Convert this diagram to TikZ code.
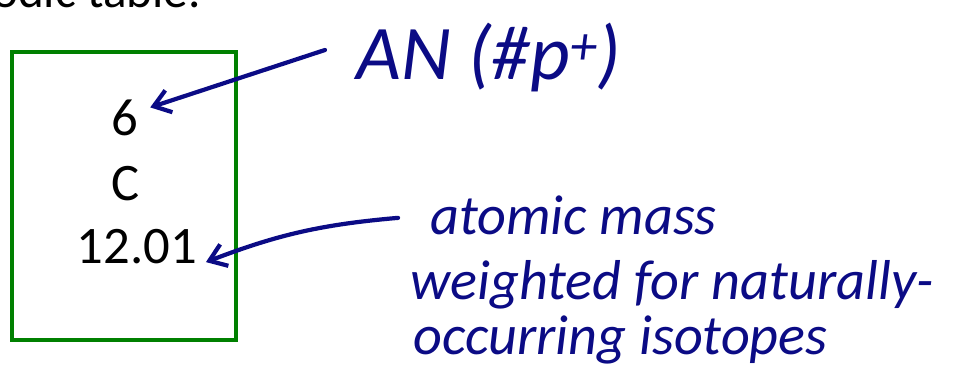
\documentclass[tikz,border=0pt]{standalone}
\usepackage{fontspec}
\setmainfont{Carlito}
\usetikzlibrary{arrows.meta,positioning,calc}
\definecolor{cellgreen}{HTML}{008000}
\definecolor{ink}{HTML}{0B0B85}
\tikzset{
  cell/.style={draw=cellgreen, line width=2.2pt, minimum width=4.48cm, minimum height=5.76cm, inner sep=0pt},
  print/.style={font=\fontsize{30}{36}\selectfont, inner sep=2pt},
  hand/.style={text=ink, inner sep=0pt, font=\itshape\fontsize{32}{34}\selectfont},
  pen/.style={draw=ink, line width=2.4pt, line cap=round, line join=round, -{Straight Barb[length=3.2mm,width=4.6mm]}},
}

\begin{document}
\begin{tikzpicture}[x=0.02cm, y=-0.02cm]
  \useasboundingbox (0,0) rectangle (953,391);
  \node[print, anchor=base east, inner sep=0pt, font=\fontsize{28}{34}\selectfont] (title) at (201,8) {Periodic table.};
  % element cell
  \node[cell] (box) at (124,196) {};
  \node[print, anchor=base] (anum) at (125,136) {6};
  \node[print, anchor=base] (sym) at (126,201) {C};
  \node[print, anchor=base] (amass) at (137,264) {12.01};
  % notes
  \node[hand, anchor=base west, font=\itshape\fontsize{44}{44}\selectfont] (an) at (356,80) {AN (\#p\textsuperscript{+})};
  \node[hand, anchor=base west] (mass) at (430,235) {atomic mass};
  \node[hand, anchor=base west] (weighted) at (410,300) {weighted for naturally-};
  \node[hand, anchor=base west] (occur) at (413,355) {occurring isotopes};
  \draw[pen] ($(an.west)+(-31,-8)$) -- ($(anum.east)+(8,-11)$);
  \draw[pen] ($(mass.west)+(-32,2)$) to[bend right=8] ($(amass.east)+(5,15)$);
\end{tikzpicture}
\end{document}
